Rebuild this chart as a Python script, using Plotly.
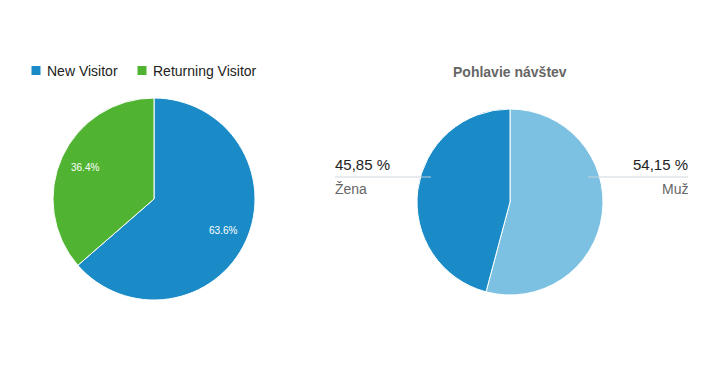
import math
import plotly.graph_objects as go

visitor_labels = ["New Visitor", "Returning Visitor"]
visitor_values = [63.6, 36.4]
visitor_colors = ["#1a8bc6", "#50b432"]

gender_title = "Pohlavie návštev"
gender_labels = ["Muž", "Žena"]
gender_values = [54.15, 45.85]
gender_text = ["54,15 %", "45,85 %"]
gender_colors = ["#7cc1e1", "#1a8bc6"]

FONT = "Liberation Sans, Arial, sans-serif"
W, H = 715, 377

def px(x):
    return x / W

def py(y):
    return 1 - y / H

# left pie geometry (pixels)
L_CX, L_CY, L_R = 154, 199, 101
# right pie geometry
R_CX, R_CY, R_R = 510, 202, 93

fig = go.Figure()
fig.add_trace(go.Pie(
    labels=visitor_labels, values=visitor_values, sort=False, direction="clockwise",
    marker=dict(colors=visitor_colors, line=dict(color="white", width=1)),
    domain=dict(x=[px(L_CX - L_R), px(L_CX + L_R)], y=[py(L_CY + L_R), py(L_CY - L_R)]),
    textinfo="none", hoverinfo="label+percent", showlegend=False,
))
fig.add_trace(go.Pie(
    labels=gender_labels, values=gender_values, sort=False, direction="clockwise",
    marker=dict(colors=gender_colors, line=dict(color="white", width=1)),
    domain=dict(x=[px(R_CX - R_R), px(R_CX + R_R)], y=[py(R_CY + R_R), py(R_CY - R_R)]),
    textinfo="none", showlegend=False,
))

# percentage labels inside the visitor pie, placed along each slice's mid-angle
total = sum(visitor_values)
cum = 0.0
for v in visitor_values:
    mid = (cum + v / 2) / total * 2 * math.pi
    cum += v
    lx = L_CX + 0.75 * L_R * math.sin(mid)
    ly = L_CY - 0.75 * L_R * math.cos(mid)
    fig.add_annotation(x=px(lx), y=py(ly), xref="paper", yref="paper", showarrow=False,
                       xanchor="center", yanchor="middle",
                       text=f"{v / total * 100:.1f}%",
                       font=dict(size=10, color="white", family=FONT))

# manual legend for the visitor pie
leg_sq = [36, 142]
for xs, lab, col in zip(leg_sq, visitor_labels, visitor_colors):
    fig.add_shape(type="rect", xref="paper", yref="paper",
                  x0=px(xs - 4.5), x1=px(xs + 4.5), y0=py(75), y1=py(66),
                  fillcolor=col, line=dict(width=0))
    fig.add_annotation(x=px(xs + 9), y=py(70.5), xref="paper", yref="paper",
                       xanchor="left", yanchor="middle", showarrow=False, text=lab,
                       font=dict(size=14, color="#222", family=FONT))

# outside labels for gender pie
line_col = "rgba(205,212,218,0.9)"
fig.add_shape(type="line", xref="paper", yref="paper", x0=px(335), x1=px(431),
              y0=py(177), y1=py(177), line=dict(color=line_col, width=1))
fig.add_shape(type="line", xref="paper", yref="paper", x0=px(588), x1=px(688),
              y0=py(177), y1=py(177), line=dict(color=line_col, width=1))
fig.add_annotation(x=px(333), y=py(175), xref="paper", yref="paper", xanchor="left", yanchor="bottom",
                   text=gender_text[1], showarrow=False, font=dict(size=15, color="#222", family=FONT))
fig.add_annotation(x=px(333), y=py(179), xref="paper", yref="paper", xanchor="left", yanchor="top",
                   text=gender_labels[1], showarrow=False, font=dict(size=14, color="#666", family=FONT))
fig.add_annotation(x=px(690), y=py(175), xref="paper", yref="paper", xanchor="right", yanchor="bottom",
                   text=gender_text[0], showarrow=False, font=dict(size=15, color="#222", family=FONT))
fig.add_annotation(x=px(690), y=py(179), xref="paper", yref="paper", xanchor="right", yanchor="top",
                   text=gender_labels[0], showarrow=False, font=dict(size=14, color="#666", family=FONT))
fig.add_annotation(x=px(510), y=py(72), xref="paper", yref="paper", xanchor="center", yanchor="middle",
                   text="<b>" + gender_title + "</b>", showarrow=False,
                   font=dict(size=14, color="#666", family=FONT))

fig.update_layout(
    width=W, height=H, margin=dict(l=0, r=0, t=0, b=0),
    paper_bgcolor="white", plot_bgcolor="white",
    font=dict(family=FONT),
    showlegend=False,
)
fig.write_html("out.html", config={"displayModeBar": False},
               post_script="document.body.style.margin='0';")
